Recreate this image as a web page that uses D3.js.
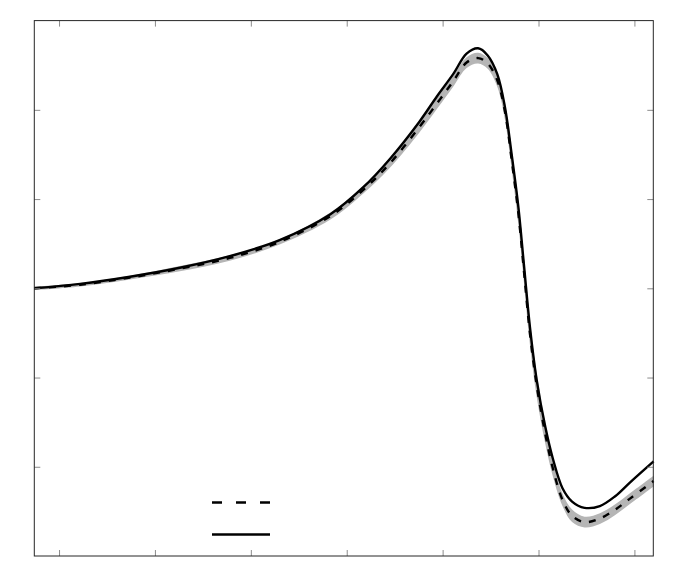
<!DOCTYPE html>
<html>
<head>
<meta charset="utf-8">
<script src="https://cdn.jsdelivr.net/npm/d3@7"></script>
<style>
  body { margin: 0; background: #fff; }
  svg { display: block; }
</style>
</head>
<body>
<svg width="692" height="581"></svg>
<script>
// values
const xs = [-0.26, 0.22, 0.74, 1.26, 1.78, 2.30, 2.83, 3.17, 3.45, 3.76, 3.94, 4.11, 4.25, 4.37, 4.47, 4.57,
            4.65, 4.72, 4.79, 4.85, 4.91, 4.98, 5.07, 5.15, 5.25, 5.35, 5.48, 5.64, 5.80, 5.95, 6.20];
const solid = [0.00, 0.05, 0.13, 0.23, 0.36, 0.54, 0.83, 1.13, 1.45, 1.87, 2.15, 2.40, 2.63, 2.69, 2.61, 2.40,
               2.03, 1.50, 0.91, 0.24, -0.43, -1.02, -1.55, -1.91, -2.24, -2.39, -2.46, -2.44, -2.33, -2.18, -1.94];
const dashed = [0.00, 0.04, 0.12, 0.22, 0.34, 0.52, 0.81, 1.10, 1.40, 1.81, 2.07, 2.32, 2.53, 2.58, 2.52, 2.33,
                1.98, 1.44, 0.84, 0.17, -0.50, -1.08, -1.63, -2.02, -2.37, -2.55, -2.62, -2.58, -2.48, -2.36, -2.16];
const bandHi = [0.02, 0.06, 0.14, 0.25, 0.37, 0.55, 0.85, 1.14, 1.45, 1.87, 2.13, 2.38, 2.59, 2.64, 2.58, 2.40,
                2.07, 1.55, 0.97, 0.30, -0.37, -0.95, -1.52, -1.93, -2.30, -2.48, -2.56, -2.52, -2.42, -2.30, -2.10];
const bandLo = [-0.02, 0.02, 0.10, 0.19, 0.31, 0.49, 0.77, 1.06, 1.35, 1.75, 2.01, 2.26, 2.47, 2.52, 2.46, 2.26,
                1.89, 1.33, 0.71, 0.04, -0.63, -1.21, -1.74, -2.11, -2.44, -2.62, -2.68, -2.64, -2.54, -2.42, -2.22];
const xTicks = [0, 1, 2, 3, 4, 5, 6];
const yTicks = [-2, -1, 0, 1, 2];

const svg = d3.select("svg");
const boxL = 34.3, boxR = 653.3, boxT = 20.6, boxB = 556;

const x = d3.scaleLinear().domain([-0.258, 6.197]).range([boxL, boxR]);
const y = d3.scaleLinear().domain([-3, 3]).range([boxB, boxT]);

const pts = (ys) => xs.map((v, i) => [v, ys[i]]);
const smooth = d3.curveCatmullRom.alpha(0.5);

// confidence band
svg.append("path")
    .datum(xs.map((v, i) => ({x: v, lo: bandLo[i], hi: bandHi[i]})))
    .attr("fill", "#b5b5b5")
    .attr("d", d3.area().curve(smooth)
        .x(d => x(d.x)).y0(d => y(d.lo)).y1(d => y(d.hi)));

const line = d3.line().curve(smooth).x(d => x(d[0])).y(d => y(d[1]));

svg.append("path")
    .datum(pts(dashed))
    .attr("fill", "none")
    .attr("stroke", "#000")
    .attr("stroke-width", 2.4)
    .attr("stroke-dasharray", "7,8")
    .attr("d", line);

svg.append("path")
    .datum(pts(solid))
    .attr("fill", "none")
    .attr("stroke", "#000")
    .attr("stroke-width", 2.4)
    .attr("d", line);

// axes: ticks inside, box around
const tk = 6;
const axes = svg.append("g");
axes.append("g").attr("transform", `translate(0,${boxB})`)
    .call(d3.axisBottom(x).tickValues(xTicks).tickSize(-tk).tickFormat(""));
axes.append("g").attr("transform", `translate(0,${boxT})`)
    .call(d3.axisTop(x).tickValues(xTicks).tickSize(-tk).tickFormat(""));
axes.append("g").attr("transform", `translate(${boxL},0)`)
    .call(d3.axisLeft(y).tickValues(yTicks).tickSize(-tk).tickFormat(""));
axes.append("g").attr("transform", `translate(${boxR},0)`)
    .call(d3.axisRight(y).tickValues(yTicks).tickSize(-tk).tickFormat(""));
axes.selectAll(".domain").remove();
axes.selectAll(".tick line").attr("stroke", "#8c8c8c").attr("stroke-width", 1);

svg.append("rect")
    .attr("x", boxL).attr("y", boxT)
    .attr("width", boxR - boxL).attr("height", boxB - boxT)
    .attr("fill", "none").attr("stroke", "#262626").attr("stroke-width", 1);

// legend samples (labels are absent in the original)
const lg = svg.append("g");
lg.append("line").attr("x1", 212).attr("x2", 270).attr("y1", 502.5).attr("y2", 502.5)
    .attr("stroke", "#000").attr("stroke-width", 2.4).attr("stroke-dasharray", "10,14");
lg.append("line").attr("x1", 212).attr("x2", 270).attr("y1", 534.5).attr("y2", 534.5)
    .attr("stroke", "#000").attr("stroke-width", 2.4);
</script>
</body>
</html>
